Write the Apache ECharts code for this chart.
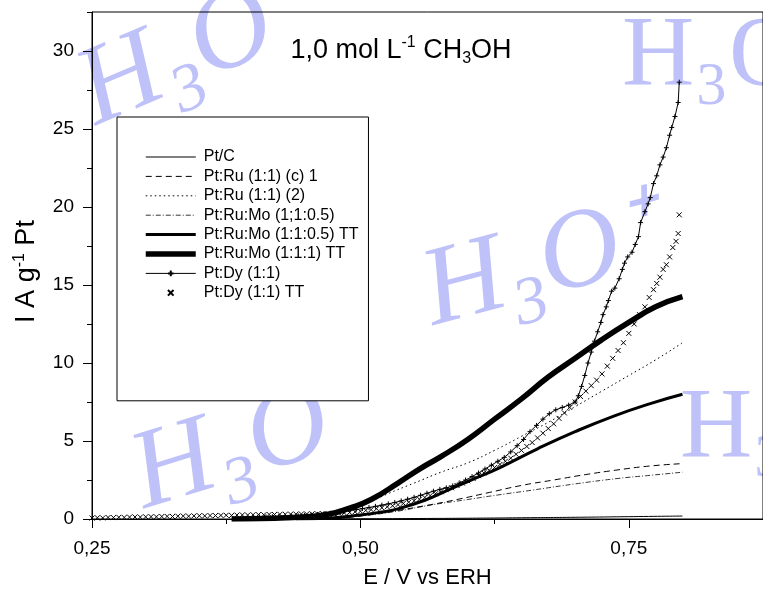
<!DOCTYPE html>
<html>
<head>
<meta charset="utf-8">
<script src="https://cdn.jsdelivr.net/npm/echarts@6/dist/echarts.min.js"></script>
<style>
html, body { margin: 0; padding: 0; background: #fff; }
#chart { width: 763px; height: 595px; }
</style>
</head>
<body>
<div id="chart"></div>
<script>
// Polarisation curves, current per gram of Pt vs electrode potential (E / V vs ERH)
// Each series is a list of [E, I] pairs.

const ptC = [[0.45,0],[0.5,0.01],[0.55,0.03],[0.6,0.05],[0.65,0.08],[0.7,0.11],[0.75,0.15],[0.8,0.19]];

const ptRuC1 = [[0.47,0],[0.5,0.2],[0.53,0.5],[0.56,0.85],[0.59,1.25],[0.62,1.7],[0.65,2.15],[0.68,2.5],[0.71,2.85],[0.74,3.15],[0.77,3.4],[0.8,3.55]];

const ptRu2 = [[0.46,0],[0.48,0.3],[0.5,0.8],[0.525,1.6],[0.55,2.3],[0.575,3.0],[0.6,3.6],[0.625,4.4],[0.65,5.3],[0.675,6.2],[0.7,7.2],[0.725,8.2],[0.75,9.2],[0.775,10.2],[0.8,11.3]];

const ptRuMo05 = [[0.47,0],[0.5,0.2],[0.53,0.45],[0.566,0.9],[0.6,1.25],[0.628,1.54],[0.66,1.85],[0.7,2.25],[0.74,2.6],[0.77,2.8],[0.8,3.0]];

const ptRuMoTT05 = [[0.44,0],[0.47,0.05],[0.5,0.25],[0.52,0.45],[0.535,0.65],[0.56,1.2],[0.58,1.8],[0.6,2.4],[0.63,3.3],[0.665,4.5],[0.7,5.6],[0.736,6.6],[0.77,7.4],[0.8,8.0]];

const ptRuMoTT1 = [[0.38,0],[0.42,0.05],[0.45,0.15],[0.47,0.3],[0.49,0.7],[0.51,1.25],[0.535,2.3],[0.555,3.2],[0.575,4.0],[0.6,5.1],[0.625,6.4],[0.65,7.7],[0.675,9.1],[0.7,10.3],[0.725,11.5],[0.75,12.6],[0.775,13.6],[0.8,14.25]];

const ptDy = [
  [0.40,0.12],[0.406,0.13],[0.412,0.14],[0.418,0.15],[0.424,0.16],[0.43,0.17],[0.436,0.19],[0.442,0.21],
  [0.448,0.23],[0.454,0.26],[0.46,0.29],[0.466,0.33],[0.472,0.37],[0.478,0.42],[0.484,0.48],[0.49,0.54],
  [0.496,0.6],[0.502,0.67],[0.508,0.74],[0.514,0.81],[0.52,0.89],[0.526,0.97],[0.532,1.06],[0.538,1.16],
  [0.544,1.27],[0.55,1.39],[0.556,1.52],[0.562,1.65],[0.568,1.78],[0.574,1.9],[0.58,2.0],[0.586,2.12],
  [0.592,2.3],[0.598,2.5],[0.604,2.72],[0.61,2.95],[0.616,3.2],[0.622,3.45],[0.628,3.7],[0.634,3.95],
  [0.64,4.3],[0.646,4.7],[0.652,5.1],[0.658,5.6],[0.664,6.0],[0.67,6.4],[0.676,6.75],[0.682,7.0],
  [0.688,7.15],[0.694,7.3],[0.7,7.5],[0.703,7.9],[0.706,8.5],[0.709,9.2],[0.712,10.0],[0.715,10.7],
  [0.718,11.4],[0.721,12.0],[0.724,12.6],[0.726,13.1],[0.729,13.6],[0.731,14.0],[0.734,14.6],[0.737,14.8],
  [0.741,15.4],[0.744,16.0],[0.746,16.4],[0.749,16.8],[0.753,17.1],[0.756,17.6],[0.759,18.1],[0.761,19.0],
  [0.765,19.7],[0.768,20.2],[0.770,20.6],[0.773,21.5],[0.776,22.0],[0.779,22.7],[0.782,23.2],[0.785,23.8],
  [0.788,24.6],[0.790,25.1],[0.793,25.8],[0.796,26.7],[0.797,28.0]
];

const ptDyTT = [
  [0.25,0.06],[0.255,0.08],[0.26,0.07],[0.265,0.1],[0.27,0.09],[0.275,0.11],[0.28,0.1],[0.285,0.12],
  [0.29,0.13],[0.295,0.12],[0.3,0.14],[0.305,0.15],[0.31,0.14],[0.315,0.16],[0.32,0.17],[0.325,0.16],
  [0.33,0.18],[0.335,0.19],[0.34,0.18],[0.345,0.2],[0.35,0.21],[0.355,0.2],[0.36,0.22],[0.365,0.22],
  [0.37,0.23],[0.375,0.24],[0.38,0.23],[0.385,0.25],[0.39,0.26],[0.395,0.25],[0.4,0.27],[0.405,0.28],
  [0.41,0.27],[0.415,0.29],[0.42,0.29],[0.425,0.3],[0.43,0.3],[0.435,0.31],[0.44,0.31],[0.445,0.32],
  [0.45,0.32],[0.455,0.33],[0.46,0.33],[0.465,0.34],[0.47,0.34],[0.475,0.35],[0.48,0.37],[0.485,0.39],
  [0.49,0.42],[0.495,0.46],[0.5,0.5],[0.505,0.55],[0.51,0.6],[0.515,0.66],[0.52,0.72],[0.525,0.78],
  [0.53,0.85],[0.535,0.92],[0.54,1.0],[0.545,1.08],[0.55,1.17],[0.555,1.27],[0.56,1.38],[0.565,1.5],
  [0.57,1.62],[0.575,1.75],[0.58,1.88],[0.585,2.0],[0.59,2.15],[0.595,2.3],[0.6,2.45],[0.605,2.6],
  [0.61,2.78],[0.615,2.95],[0.62,3.12],[0.625,3.3],[0.63,3.5],[0.635,3.7],[0.64,3.9],[0.645,4.15],
  [0.65,4.4],[0.655,4.65],[0.66,4.9],[0.665,5.2],[0.67,5.5],[0.675,5.8],[0.68,6.1],[0.685,6.45],
  [0.69,6.8],[0.695,7.15],[0.7,7.5],[0.705,7.85],[0.71,8.2],[0.715,8.55],[0.72,8.9],[0.725,9.3],
  [0.73,9.8],[0.735,10.3],[0.74,10.8],[0.745,11.3],[0.75,11.9],[0.755,12.5],[0.76,13.1],[0.765,13.6],
  [0.769,14.2],[0.773,14.7],[0.776,15.1],[0.779,15.5],[0.782,16.0],[0.785,16.3],[0.788,16.8],[0.791,17.4],
  [0.794,17.8],[0.796,18.3],[0.797,19.5]
];

// Tick positions
const xMajorTicks = [0.25, 0.5, 0.75];
const xMinorTicks = [0.375, 0.625];
const yMajorTicks = [0, 5, 10, 15, 20, 25, 30];
const yMinorTicks = [2.5, 7.5, 12.5, 17.5, 22.5, 27.5, 32.5];

const FONT = 'Liberation Sans, Arial, sans-serif';
const SERIF = 'Liberation Serif';
const WM = '#bec2f8';
const TURN = 2 * Math.PI;

const plusPath = 'path://M2.5,0L2.5,5M0,2.5L5,2.5';
const crossPath = 'path://M0,0L5,5M5,0L0,5';

function decimalComma(v) { return v.toFixed(2).replace('.', ','); }

const chart = echarts.init(document.getElementById('chart'), null, { renderer: 'canvas' });

const lineBase = { type: 'line', symbol: 'none', smooth: 0.5, silent: true, z: 3 };

function wmLabel(txt, size, italic) {
  return {
    type: 'text', silent: true, z: -10,
    style: { text: txt, fontSize: size, fontStyle: italic ? 'italic' : 'normal', fontFamily: SERIF, fill: WM, verticalAlign: 'bottom' }
  };
}

// Background watermark glyphs; tilt angles carry an extra full turn
const watermarks = [
  { type: 'group', x: 106, y: 150, rotation: 0.4 + TURN, silent: true, z: -10, children: [wmLabel('H₃O', 112, true)] },
  { type: 'group', x: 440, y: 351, rotation: 0.26 + TURN, silent: true, z: -10, children: [wmLabel('H₃O⁺', 112, true)] },
  { type: 'group', x: 152, y: 534, rotation: 0.3 + TURN, silent: true, z: -10, children: [wmLabel('H₃O', 112, true)] },
  { type: 'group', x: 622, y: 108, silent: true, z: -10, children: [wmLabel('H₃O', 100, false)] },
  { type: 'group', x: 680, y: 480, silent: true, z: -10, children: [wmLabel('H₃', 100, false)] }
];

chart.setOption({
  animation: false,
  backgroundColor: '#fff',
  grid: { left: 92, top: 12, right: -4, bottom: 76, show: true, borderColor: '#000', borderWidth: 1, backgroundColor: 'transparent' },
  graphic: watermarks.concat([
    {
      type: 'text', x: 401, y: 51, z: 20, silent: true,
      style: {
        text: '{a|1,0 mol L}{sup|-1}{a| CH}{sub|3}{a|OH}',
        align: 'center', verticalAlign: 'middle',
        rich: {
          a: { fontSize: 27, lineHeight: 32, fontFamily: FONT, fill: '#000' },
          sup: { fontSize: 16, lineHeight: 16, verticalAlign: 'top', fontFamily: FONT, fill: '#000' },
          sub: { fontSize: 16, lineHeight: 15, verticalAlign: 'bottom', fontFamily: FONT, fill: '#000' }
        }
      }
    }
  ]),
  legend: {
    orient: 'vertical',
    left: 117, top: 117,
    padding: [32, 10, 100, 26],
    itemWidth: 50, itemHeight: 7, itemGap: 3.4,
    backgroundColor: '#fff', borderColor: '#000', borderWidth: 1, borderRadius: 0,
    selectedMode: false,
    z: 10,
    textStyle: { fontFamily: FONT, fontSize: 16, color: '#000', padding: [0, 0, 0, 3] },
    data: [
      { name: 'Pt/C', itemStyle: { opacity: 0 }, lineStyle: { width: 1, type: 'solid' } },
      { name: 'Pt:Ru (1:1) (c) 1', itemStyle: { opacity: 0 }, lineStyle: { width: 1, type: [6, 4] } },
      { name: 'Pt:Ru (1:1) (2)', itemStyle: { opacity: 0 }, lineStyle: { width: 1, type: [1.5, 3] } },
      { name: 'Pt:Ru:Mo (1;1:0.5)', itemStyle: { opacity: 0 }, lineStyle: { width: 0.8, type: [5, 2, 1, 2] } },
      { name: 'Pt:Ru:Mo (1:1:0.5) TT', itemStyle: { opacity: 0 }, lineStyle: { width: 3, type: 'solid' } },
      { name: 'Pt:Ru:Mo (1:1:1) TT', itemStyle: { opacity: 0 }, lineStyle: { width: 5.5, type: 'solid' } },
      { name: 'Pt:Dy (1:1)', lineStyle: { width: 1, type: 'solid' } },
      { name: 'Pt:Dy (1:1) TT', lineStyle: { width: 0, opacity: 0 } }
    ]
  },
  xAxis: [
    {
      type: 'value', min: 0.25, max: 0.875, interval: 0.25,
      name: 'E / V vs ERH', nameLocation: 'middle', nameGap: 48,
      nameTextStyle: { fontFamily: FONT, fontSize: 22, color: '#000' },
      axisLine: { show: true, onZero: false, lineStyle: { color: '#000', width: 1 } },
      axisTick: { show: true, length: 9, customValues: xMajorTicks, lineStyle: { color: '#000', width: 1 } },
      axisLabel: { show: true, customValues: xMajorTicks, margin: 20, fontFamily: FONT, fontSize: 19, color: '#000', formatter: decimalComma },
      splitLine: { show: false }
    },
    {
      type: 'value', position: 'bottom', min: 0.25, max: 0.875, interval: 0.125,
      axisLine: { show: false },
      axisTick: { show: true, length: 5, customValues: xMinorTicks, lineStyle: { color: '#000', width: 1 } },
      axisLabel: { show: false },
      splitLine: { show: false }
    }
  ],
  yAxis: [
    {
      type: 'value', min: 0, max: 32.5, interval: 5,
      name: '{n|I A g}{sup|-1}{n| Pt}', nameLocation: 'middle', nameGap: 50,
      nameTextStyle: {
        padding: [0, 12, 0, 0],
        rich: {
          n: { fontFamily: FONT, fontSize: 27, color: '#000', lineHeight: 30 },
          sup: { fontFamily: FONT, fontSize: 16, color: '#000', lineHeight: 16, verticalAlign: 'top' }
        }
      },
      axisLine: { show: true, onZero: false, lineStyle: { color: '#000', width: 1 } },
      axisTick: { show: true, length: 9, customValues: yMajorTicks, lineStyle: { color: '#000', width: 1 } },
      axisLabel: { show: true, customValues: yMajorTicks, margin: 18, fontFamily: FONT, fontSize: 19, color: '#000' },
      splitLine: { show: false }
    },
    {
      type: 'value', position: 'left', min: 0, max: 32.5, interval: 2.5,
      axisLine: { show: false },
      axisTick: { show: true, length: 5, customValues: yMinorTicks, lineStyle: { color: '#000', width: 1 } },
      axisLabel: { show: false },
      splitLine: { show: false }
    }
  ],
  series: [
    Object.assign({}, lineBase, { name: 'Pt/C', data: ptC, lineStyle: { color: '#000', width: 1 }, itemStyle: { color: '#000' } }),
    Object.assign({}, lineBase, { name: 'Pt:Ru (1:1) (c) 1', data: ptRuC1, lineStyle: { color: '#000', width: 1, type: [6, 4] }, itemStyle: { color: '#000' } }),
    Object.assign({}, lineBase, { name: 'Pt:Ru (1:1) (2)', data: ptRu2, lineStyle: { color: '#000', width: 1, type: [1.5, 3] }, itemStyle: { color: '#000' } }),
    Object.assign({}, lineBase, { name: 'Pt:Ru:Mo (1;1:0.5)', data: ptRuMo05, lineStyle: { color: '#000', width: 0.8, type: [5, 2, 1, 2] }, itemStyle: { color: '#000' } }),
    Object.assign({}, lineBase, { name: 'Pt:Ru:Mo (1:1:0.5) TT', data: ptRuMoTT05, lineStyle: { color: '#000', width: 3 }, itemStyle: { color: '#000' } }),
    Object.assign({}, lineBase, { name: 'Pt:Ru:Mo (1:1:1) TT', data: ptRuMoTT1, lineStyle: { color: '#000', width: 5.5 }, itemStyle: { color: '#000' } }),
    {
      name: 'Pt:Dy (1:1)', type: 'line', data: ptDy, silent: true, z: 4,
      symbol: plusPath, symbolSize: 5, showSymbol: true,
      lineStyle: { color: '#000', width: 1 },
      itemStyle: { color: '#000', borderColor: '#000', borderWidth: 1 }
    },
    {
      name: 'Pt:Dy (1:1) TT', type: 'line', data: ptDyTT, silent: true, z: 4,
      symbol: crossPath, symbolSize: 5, showSymbol: true,
      lineStyle: { color: '#000', width: 0, opacity: 0 },
      itemStyle: { color: '#000', borderColor: '#000', borderWidth: 1 }
    }
  ]
});
</script>
</body>
</html>
